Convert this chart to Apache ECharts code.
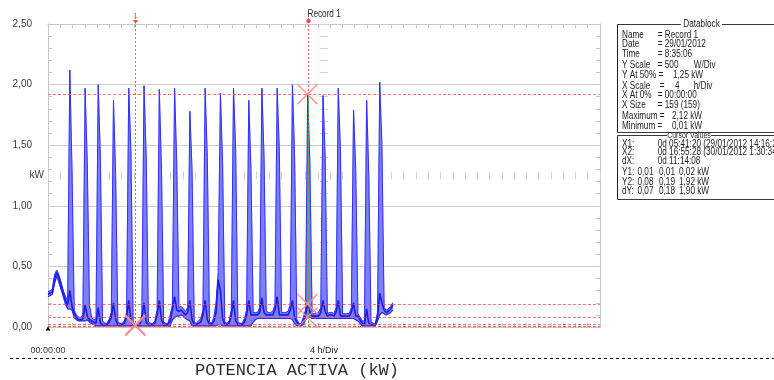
<!DOCTYPE html>
<html>
<head>
<meta charset="utf-8">
<script src="https://cdn.jsdelivr.net/npm/echarts@6.0.0/dist/echarts.min.js"></script>
<style>
  html, body { margin: 0; padding: 0; background: #fff; }
  #chart { width: 774px; height: 380px; }
</style>
</head>
<body>
<div id="chart"></div>
<script>
// ---- DATA -------------------------------------------------------------
const sampleMinutes = 8.54;          // sampling interval (159 samples)
const avgKW = [
0.27,0.28,0.29,0.40,0.45,0.40,0.34,0.28,0.22,0.18,
0.30,0.17,0.11,0.08,0.06,0.06,0.07,0.18,0.09,0.06,
0.05,0.04,0.03,0.16,0.03,0.02,0.02,0.02,0.04,0.08,
0.20,0.06,0.02,0.02,0.02,0.03,0.08,0.22,0.05,0.02,
0.01,0.01,0.02,0.07,0.20,0.04,0.02,0.02,0.02,0.03,
0.10,0.22,0.06,0.02,0.02,0.02,0.05,0.14,0.25,0.14,
0.13,0.14,0.12,0.10,0.12,0.22,0.06,0.02,0.02,0.03,
0.04,0.10,0.22,0.06,0.02,0.02,0.05,0.12,0.39,0.30,
0.07,0.02,0.02,0.03,0.10,0.22,0.05,0.02,0.02,0.02,
0.04,0.10,0.22,0.10,0.10,0.10,0.10,0.12,0.24,0.12,
0.10,0.10,0.10,0.10,0.14,0.25,0.10,0.10,0.10,0.10,
0.10,0.14,0.22,0.08,0.04,0.02,0.02,0.05,0.10,0.19,
0.12,0.09,0.09,0.09,0.09,0.12,0.22,0.13,0.09,0.10,
0.10,0.09,0.12,0.22,0.09,0.09,0.09,0.09,0.09,0.12,
0.20,0.09,0.09,0.06,0.03,0.02,0.15,0.03,0.02,0.02,
0.02,0.08,0.28,0.20,0.14,0.12,0.13,0.15,0.18
];
const minKW = [
0.25,0.26,0.27,0.36,0.42,0.37,0.31,0.25,0.19,0.15,
0.15,0.14,0.08,0.06,0.05,0.05,0.05,0.05,0.06,0.04,
0.03,0.02,0.01,0.01,0.01,0.01,0.01,0.01,0.01,0.01,
0.01,0.01,0.01,0.01,0.01,0.01,0.01,0.01,0.01,0.01,
0.01,0.01,0.01,0.01,0.01,0.01,0.01,0.01,0.01,0.01,
0.01,0.01,0.01,0.01,0.01,0.01,0.01,0.06,0.08,0.09,
0.09,0.10,0.09,0.07,0.06,0.05,0.01,0.01,0.01,0.01,
0.01,0.01,0.01,0.01,0.01,0.01,0.01,0.01,0.02,0.02,
0.01,0.01,0.01,0.01,0.01,0.01,0.01,0.01,0.01,0.01,
0.01,0.01,0.01,0.01,0.04,0.06,0.07,0.07,0.07,0.07,
0.07,0.07,0.07,0.07,0.07,0.07,0.07,0.07,0.07,0.07,
0.07,0.07,0.06,0.03,0.01,0.01,0.01,0.02,0.06,0.08,
0.08,0.07,0.07,0.07,0.07,0.07,0.07,0.07,0.07,0.07,
0.07,0.07,0.07,0.07,0.07,0.07,0.07,0.07,0.07,0.07,
0.07,0.06,0.05,0.03,0.01,0.01,0.01,0.01,0.01,0.01,
0.01,0.05,0.10,0.12,0.11,0.10,0.11,0.12,0.14
];
const maxKW = [
0.29,0.30,0.31,0.43,0.47,0.43,0.37,0.30,0.25,0.22,
2.12,1.30,0.14,0.10,0.08,0.08,0.10,1.97,1.35,0.18,
0.08,0.06,0.06,2.00,1.40,0.05,0.03,0.03,0.06,0.12,
1.87,1.25,0.04,0.03,0.03,0.05,0.12,1.97,1.45,0.04,
0.02,0.02,0.04,0.10,1.99,1.40,0.04,0.03,0.03,0.05,
0.14,1.96,1.30,0.04,0.03,0.03,0.10,0.18,1.97,1.35,
0.16,0.17,0.15,0.13,0.16,1.78,1.30,0.04,0.03,0.05,
0.07,0.14,1.97,1.40,0.04,0.03,0.08,0.20,0.45,1.93,
1.35,0.04,0.03,0.05,0.14,1.97,1.45,0.04,0.03,0.03,
0.07,0.14,1.87,1.30,0.12,0.12,0.12,0.16,1.97,1.40,
0.13,0.12,0.12,0.13,0.18,1.97,1.45,0.12,0.12,0.12,
0.13,0.18,2.00,1.40,0.06,0.03,0.03,0.08,0.14,1.92,
1.35,0.11,0.11,0.11,0.12,0.16,1.91,1.40,0.11,0.12,
0.12,0.11,0.16,1.97,1.45,0.11,0.11,0.11,0.11,0.16,
1.79,1.30,0.11,0.08,0.05,0.05,1.87,1.25,0.04,0.03,
0.03,0.12,2.02,1.50,0.16,0.14,0.15,0.17,0.20
];
const yTickLabels = ['0,00', '0,50', '1,00', '1,50', '2,00', '2,50'];
const xStartLabel = '00:00:00';
const xAxisTitle = '4 h/Div';
const yAxisTitle = 'kW';
const chartTitle = 'POTENCIA ACTIVA (kW)';
const cursorTimesH = [5 + 41/60 + 20/3600, 16 + 55/60 + 28/3600];
const cursorLabels = ['1', 'Record 1'];
const cursor1Y = [0.01, 0.01, 0.02];
const cursor2Y = [0.08, 0.19, 1.92];
const datablockTitle = 'Datablock';
const datablockRows = [
  ['Name', '= Record 1'],
  ['Date', '= 29/01/2012'],
  ['Time', '= 8:35:06'],
  ['Y Scale', '= 500', 'W/Div'],
  ['Y At 50% =', '1,25 kW'],
  ['X Scale', '=', '4', 'h/Div'],
  ['X At 0%', '= 00:00:00'],
  ['X Size', '= 159 (159)'],
  ['Maximum =', '2,12 kW'],
  ['Minimum =', '0,01 kW']
];
const cursorTitle = 'Cursor Values';
const cursorRows = [
  ['X1:', '0d 05:41:20 (29/01/2012 14:16:26)'],
  ['X2:', '0d 16:55:28 (30/01/2012 1:30:34)'],
  ['dX:', '0d 11:14:08'],
  ['Y1:', '0,01', '0,01', '0,02 kW'],
  ['Y2:', '0,08', '0,19', '1,92 kW'],
  ['dY:', '0,07', '0,18', '1,90 kW']
];

// ---- BUILD ------------------------------------------------------------
const tHours = avgKW.map((_, i) => i * sampleMinutes / 60);
const pts = arr => arr.map((v, i) => [tHours[i], v]);

const FONT = "'Liberation Sans',Arial,sans-serif";
const BORDER = '#c6c6c6';
const TXT = '#3a3a3a';
const RED = '#ff4a4a';
const NARROW = 0.82;

function frameAxisX(pos, showLabel) {
  return {
    type: 'value', min: 0, max: 36, interval: 4, position: pos,
    axisLine: { show: true, onZero: false, lineStyle: { color: BORDER, width: 1 } },
    axisTick: { show: true, inside: true, length: 4, lineStyle: { color: BORDER } },
    minorTick: { show: true, splitNumber: 5, length: 4, lineStyle: { color: BORDER } },
    splitLine: { show: false },
    axisLabel: showLabel ? {
      show: true, margin: 19, fontSize: 9, fontFamily: FONT, color: TXT,
      formatter: v => (v === 0 ? xStartLabel : '')
    } : { show: false }
  };
}
function frameAxisY(pos, showLabel) {
  return {
    type: 'value', min: 0, max: 2.5, interval: 0.5, position: pos,
    axisLine: { show: true, onZero: false, lineStyle: { color: BORDER, width: 1 } },
    axisTick: { show: true, inside: true, length: 4, lineStyle: { color: BORDER } },
    minorTick: { show: true, splitNumber: 5, length: 4, lineStyle: { color: BORDER } },
    splitLine: { show: showLabel, lineStyle: { color: '#cfcfcf', width: 1 } },
    axisLabel: showLabel ? {
      show: true, margin: 16, fontSize: 10, fontFamily: FONT, color: TXT,
      formatter: v => yTickLabels[Math.round(v / 0.5)]
    } : { show: false }
  };
}

const xBottom = frameAxisX('bottom', true);
xBottom.name = xAxisTitle;
xBottom.nameLocation = 'middle';
xBottom.nameGap = 19;
xBottom.nameMoveOverlap = false;
xBottom.nameTextStyle = { fontSize: 9, fontFamily: FONT, color: '#222' };

const yLeft = frameAxisY('left', true);
yLeft.name = yAxisTitle;
yLeft.nameLocation = 'middle';
yLeft.nameRotate = 0;
yLeft.nameGap = 4;
yLeft.nameMoveOverlap = false;
yLeft.nameTextStyle = { fontSize: 10, fontFamily: FONT, color: TXT, align: 'right', verticalAlign: 'middle' };

const xCenter = {
  type: 'value', min: 0, max: 36, interval: 0.8, position: 'bottom', offset: -147.5,
  axisLine: { show: false, onZero: false },
  axisTick: { show: true, inside: true, length: 8, lineStyle: { color: '#d2d2d2' } },
  axisLabel: { show: false }, splitLine: { show: false }
};
const yCenter = {
  type: 'value', min: 0, max: 2.5, interval: 0.1, position: 'left', offset: -280,
  axisLine: { show: false, onZero: false },
  axisTick: { show: true, inside: false, length: 8, lineStyle: { color: '#d2d2d2' } },
  axisLabel: { show: false }, splitLine: { show: false }
};

const cursorMarks = [];
cursor1Y.forEach(v => cursorMarks.push([cursorTimesH[0], v]));
cursor2Y.forEach(v => cursorMarks.push([cursorTimesH[1], v]));

const textEls = [];
function addText(x, y, s, opts) {
  opts = opts || {};
  textEls.push({
    type: 'text', x: x, y: y, silent: true, scaleX: opts.scaleX || NARROW,
    style: { text: s, fontSize: opts.fontSize || 10, fontFamily: opts.fontFamily || FONT,
      fill: opts.fill || '#1e1e1e', align: opts.align || 'left', verticalAlign: 'middle' }
  });
}
function addLine(x1, y1, x2, y2, stroke, dash) {
  textEls.push({ type: 'line', silent: true, shape: { x1, y1, x2, y2 },
    style: { stroke: stroke, lineWidth: 1, lineDash: dash || null } });
}
// datablock box
const DBX = 617.5;
addLine(DBX, 24.5, 681, 24.5, '#3a3a3a');
addLine(722, 24.5, 774, 24.5, '#3a3a3a');
addLine(DBX, 24.5, DBX, 132.5, '#202020');
addLine(DBX, 132.5, 774, 132.5, '#3a3a3a');
addText(701.5, 24.5, datablockTitle, { align: 'center' });
const dbY = [35, 44.5, 54.5, 65.5, 75.5, 86, 95.5, 105, 116.5, 126];
const dbX = [
  [622, 657.7], [622, 657.7], [622, 657.7], [622, 657.7, 693.7], [622, 673],
  [622, 659.7, 675, 693.7], [622, 657.7], [622, 657.7], [622, 672], [622, 672]
];
datablockRows.forEach((row, r) => row.forEach((s, c) => addText(dbX[r][c], dbY[r], s)));
// cursor values box
addLine(DBX, 135.5, 667, 135.5, '#3a3a3a');
addLine(711, 135.5, 774, 135.5, '#3a3a3a');
addLine(DBX, 135.5, DBX, 199.5, '#202020');
addLine(DBX, 199.5, 774, 199.5, '#3a3a3a');
addText(689, 135.5, cursorTitle, { align: 'center', fontSize: 8.5 });
const cvY = [144, 152.5, 161, 172.5, 182, 191.5];
const cvX = [[622, 657.7], [622, 657.7], [622, 657.7], [622, 637.5, 659, 679], [622, 637.5, 659, 679], [622, 637.5, 659, 679]];
cursorRows.forEach((row, r) => row.forEach((s, c) => addText(cvX[r][c], cvY[r], s)));
// bottom title + dashed separator
addLine(10, 358.5, 774, 358.5, '#000', [3, 3]);
addText(297, 370.5, chartTitle, { align: 'center', scaleX: 1, fontSize: 17,
  fontFamily: "'Liberation Mono','Courier New',monospace", fill: '#2e2e2e' });

const option = {
  animation: false,
  backgroundColor: '#ffffff',
  grid: { left: 48, top: 24, width: 552, height: 303, show: false, outerBoundsMode: 'none', containLabel: false },
  xAxis: [xBottom, frameAxisX('top', false), xCenter],
  yAxis: [yLeft, frameAxisY('right', false), yCenter],
  graphic: textEls,
  series: [
    { // min-max envelope
      type: 'custom', name: 'band', silent: true, clip: true, z: 2,
      data: [[0, 0]],
      renderItem: (params, api) => {
        const upper = maxKW.map((v, i) => api.coord([tHours[i], v]));
        const lower = minKW.map((v, i) => api.coord([tHours[i], v])).reverse();
        return { type: 'polygon', shape: { points: upper.concat(lower) },
          style: { fill: '#7e7efc', stroke: '#7e7efc', lineWidth: 0.6 } };
      }
    },
    { type: 'line', name: 'max', data: pts(maxKW), symbol: 'none', silent: true,
      lineStyle: { color: '#3030ff', width: 1 }, z: 3 },
    { type: 'line', name: 'min', data: pts(minKW), symbol: 'none', silent: true,
      lineStyle: { color: '#2a2af5', width: 1.2 }, z: 3 },
    { type: 'line', name: 'avg', data: pts(avgKW), symbol: 'none', silent: true,
      lineStyle: { color: '#1c1ce6', width: 1.6 }, z: 3,
      markLine: {
        silent: true, symbol: 'none', label: { show: false }, animation: false,
        lineStyle: { color: RED, type: [3, 2], width: 1, opacity: 0.75 },
        data: cursor2Y.concat(cursor1Y).map(v => ({ yAxis: v }))
      }
    },
    { // cursor lines
      type: 'custom', name: 'cursors', silent: true, clip: false, z: 5,
      data: cursorTimesH.map((t, i) => [t, 0, i]),
      renderItem: (params, api) => {
        const t = api.value(0);
        const b = api.coord([t, 0]);
        const top = api.coord([t, 2.5]);
        const x = Math.round(b[0]) + 0.5;
        const kids = [{ type: 'line', shape: { x1: x, y1: b[1], x2: x, y2: top[1] - 6 },
          style: { stroke: RED, lineWidth: 1, lineDash: [2, 2], opacity: 0.9 } }];
        if (params.dataIndex === 0) {
          kids.push({ type: 'text', x: x, y: top[1] - 8,
            style: { text: cursorLabels[0], fontSize: 8, fontFamily: FONT, fill: RED, align: 'center', verticalAlign: 'middle' } });
          kids.push({ type: 'polygon', shape: { points: [[x - 2.5, top[1] - 4], [x + 2.5, top[1] - 4], [x, top[1]]] },
            style: { fill: RED } });
        } else {
          const g = api.coord([t, cursor2Y[2]]);
          kids.push({ type: 'line', shape: { x1: x, y1: g[1], x2: x, y2: b[1] },
            style: { stroke: '#35c035', lineWidth: 1, lineDash: [2, 2], lineDashOffset: 2 } });
          kids.push({ type: 'text', x: x - 1, y: top[1] - 9.5, scaleX: NARROW,
            style: { text: cursorLabels[1], fontSize: 10, fontFamily: FONT, fill: '#2a2a2a', align: 'left', verticalAlign: 'middle' } });
          kids.push({ type: 'circle', shape: { cx: x, cy: top[1] - 3, r: 2.2 }, style: { fill: RED } });
        }
        return { type: 'group', children: kids };
      }
    },
    { // cursor X markers
      type: 'custom', name: 'cursorMarks', silent: true, clip: false, z: 6,
      data: cursorMarks,
      renderItem: (params, api) => {
        const c = api.coord([api.value(0), api.value(1)]);
        const s = 10;
        return { type: 'group', children: [
          { type: 'line', shape: { x1: c[0] - s, y1: c[1] - s, x2: c[0] + s, y2: c[1] + s }, style: { stroke: '#ff8a8a', lineWidth: 1.2 } },
          { type: 'line', shape: { x1: c[0] - s, y1: c[1] + s, x2: c[0] + s, y2: c[1] - s }, style: { stroke: '#ff8a8a', lineWidth: 1.2 } }
        ] };
      }
    },
    { // origin marker
      type: 'custom', name: 'origin', silent: true, clip: false, z: 6,
      data: [[0, 0]],
      renderItem: (params, api) => {
        const c = api.coord([api.value(0), api.value(1)]);
        return { type: 'polygon', shape: { points: [[c[0] - 2.5, c[1] + 3.5], [c[0] + 2.5, c[1] + 3.5], [c[0], c[1] - 0.5]] },
          style: { fill: '#000' } };
      }
    }
  ]
};

const chart = echarts.init(document.getElementById('chart'), null, { renderer: 'canvas' });
chart.setOption(option);
</script>
</body>
</html>
